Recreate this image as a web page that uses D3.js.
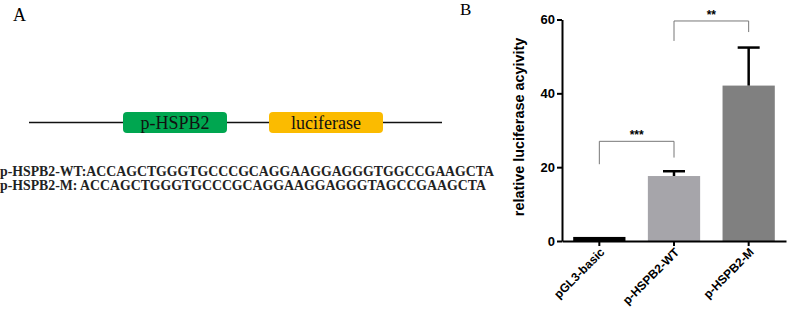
<!DOCTYPE html>
<html>
<head>
<meta charset="utf-8">
<script src="https://cdn.jsdelivr.net/npm/d3@7"></script>
<style>
  body { margin: 0; background: #fff; }
  svg { display: block; }
</style>
</head>
<body>
<svg id="chart" width="787" height="309"></svg>
<script>
// Panel B data
const categories = ['pGL3-basic', 'p-HSPB2-WT', 'p-HSPB2-M'];
const meanValues = [1.1, 17.6, 42.1];
const errorValues = [0, 1.3, 10.3];
const barColors = ['#000000', '#a6a5aa', '#808080'];
const yTicks = [0, 20, 40, 60];
// significance brackets
const brackets = [
    { from: 'pGL3-basic', to: 'p-HSPB2-WT', label: '***', level: 27, leftEnd: 20.8, rightEnd: 22.6 },
    { from: 'p-HSPB2-WT', to: 'p-HSPB2-M', label: '**', level: 59.6, leftEnd: 54.2, rightEnd: 56.6 }
];

// Panel A data
const constructParts = [
    { label: 'p-HSPB2', color: '#00a650', x0: 123, x1: 227 },
    { label: 'luciferase', color: '#fbbb00', x0: 269, x1: 383 }
];
const sequences = [
    'p-HSPB2-WT:ACCAGCTGGGTGCCCGCAGGAAGGAGGGTGGCCGAAGCTA',
    'p-HSPB2-M: ACCAGCTGGGTGCCCGCAGGAAGGAGGGTAGCCGAAGCTA'
];

const svg = d3.select('#chart');
const serif = '"Liberation Serif", "Times New Roman", serif';
const sans = '"Liberation Sans", Arial, sans-serif';

// ---- Panel A ----
svg.append('text')
    .attr('x', 13).attr('y', 21)
    .style('font-family', serif).style('font-size', '18px')
    .text('A');

svg.append('line')
    .attr('x1', 29).attr('x2', 442)
    .attr('y1', 122.5).attr('y2', 122.5)
    .attr('stroke', '#111').attr('stroke-width', 1.6);

const parts = svg.append('g').selectAll('g')
    .data(constructParts)
    .enter().append('g');
parts.append('rect')
    .attr('x', d => d.x0).attr('y', 112)
    .attr('width', d => d.x1 - d.x0).attr('height', 21)
    .attr('rx', 4)
    .attr('fill', d => d.color);
parts.append('text')
    .attr('x', d => (d.x0 + d.x1) / 2).attr('y', 128.5)
    .attr('text-anchor', 'middle')
    .style('font-family', serif).style('font-size', '18px')
    .attr('fill', '#111')
    .text(d => d.label);

svg.append('g').selectAll('text')
    .data(sequences)
    .enter().append('text')
    .attr('x', 0)
    .attr('y', (d, i) => 176 + i * 14)
    .style('font-family', serif).style('font-size', '13.8px').style('font-weight', 'bold')
    .attr('fill', '#222')
    .text(d => d);

svg.append('text')
    .attr('x', 460).attr('y', 15)
    .style('font-family', serif).style('font-size', '17px')
    .text('B');

// ---- Panel B ----
const xScale = d3.scaleBand()
    .domain(categories)
    .range([562, 786])
    .paddingInner(0.3)
    .paddingOuter(0.15);
const yScale = d3.scaleLinear().domain([0, 60]).range([241, 19.5]);

const bars = svg.append('g');
bars.selectAll('rect')
    .data(categories)
    .enter().append('rect')
    .attr('x', d => xScale(d))
    .attr('y', (d, i) => yScale(meanValues[i]))
    .attr('width', xScale.bandwidth())
    .attr('height', (d, i) => yScale(0) - yScale(meanValues[i]))
    .attr('fill', (d, i) => barColors[i]);

// error bars (upper only)
const errs = svg.append('g').attr('stroke', '#000').attr('stroke-width', 2.5);
categories.forEach((c, i) => {
    if (errorValues[i] <= 0) return;
    const cx = xScale(c) + xScale.bandwidth() / 2;
    errs.append('line')
        .attr('x1', cx).attr('x2', cx)
        .attr('y1', yScale(meanValues[i])).attr('y2', yScale(meanValues[i] + errorValues[i]));
    errs.append('line')
        .attr('x1', cx - 11).attr('x2', cx + 11)
        .attr('y1', yScale(meanValues[i] + errorValues[i])).attr('y2', yScale(meanValues[i] + errorValues[i]));
});

// axes
const xAxis = svg.append('g')
    .attr('transform', 'translate(0,' + yScale(0) + ')')
    .call(d3.axisBottom(xScale).tickSize(5).tickSizeOuter(0));
const yAxis = svg.append('g')
    .attr('transform', 'translate(562,0)')
    .call(d3.axisLeft(yScale).tickValues(yTicks).tickSize(5).tickSizeOuter(0));

[xAxis, yAxis].forEach(ax => {
    ax.select('.domain').attr('stroke', '#000').attr('stroke-width', 2);
    ax.selectAll('.tick line').attr('stroke', '#000').attr('stroke-width', 2);
    ax.selectAll('text')
        .style('font-family', sans).style('font-weight', 'bold').attr('fill', '#000');
});
yAxis.selectAll('text').style('font-size', '13px').attr('x', -7);
xAxis.selectAll('text')
    .style('font-size', '12px')
    .attr('text-anchor', 'end')
    .attr('y', 0)
    .attr('dy', '0.35em')
    .attr('transform', 'translate(3,9) rotate(-45)');

// y label
svg.append('text')
    .attr('transform', 'translate(524,127) rotate(-90)')
    .attr('text-anchor', 'middle')
    .style('font-family', sans).style('font-size', '14.4px').style('font-weight', 'bold')
    .text('relative luciferase acyivity');

// significance brackets
const sig = svg.append('g');
brackets.forEach(b => {
    const x1 = xScale(b.from) + xScale.bandwidth() / 2;
    const x2 = xScale(b.to) + xScale.bandwidth() / 2;
    sig.append('path')
        .attr('d', 'M' + x1 + ',' + yScale(b.leftEnd) + 'V' + yScale(b.level) + 'H' + x2 + 'V' + yScale(b.rightEnd))
        .attr('fill', 'none').attr('stroke', '#777').attr('stroke-width', 1);
    sig.append('text')
        .attr('x', (x1 + x2) / 2).attr('y', yScale(b.level) - 2)
        .attr('text-anchor', 'middle')
        .style('font-family', sans).style('font-size', '12px').style('font-weight', 'bold')
        .text(b.label);
});
</script>
</body>
</html>
